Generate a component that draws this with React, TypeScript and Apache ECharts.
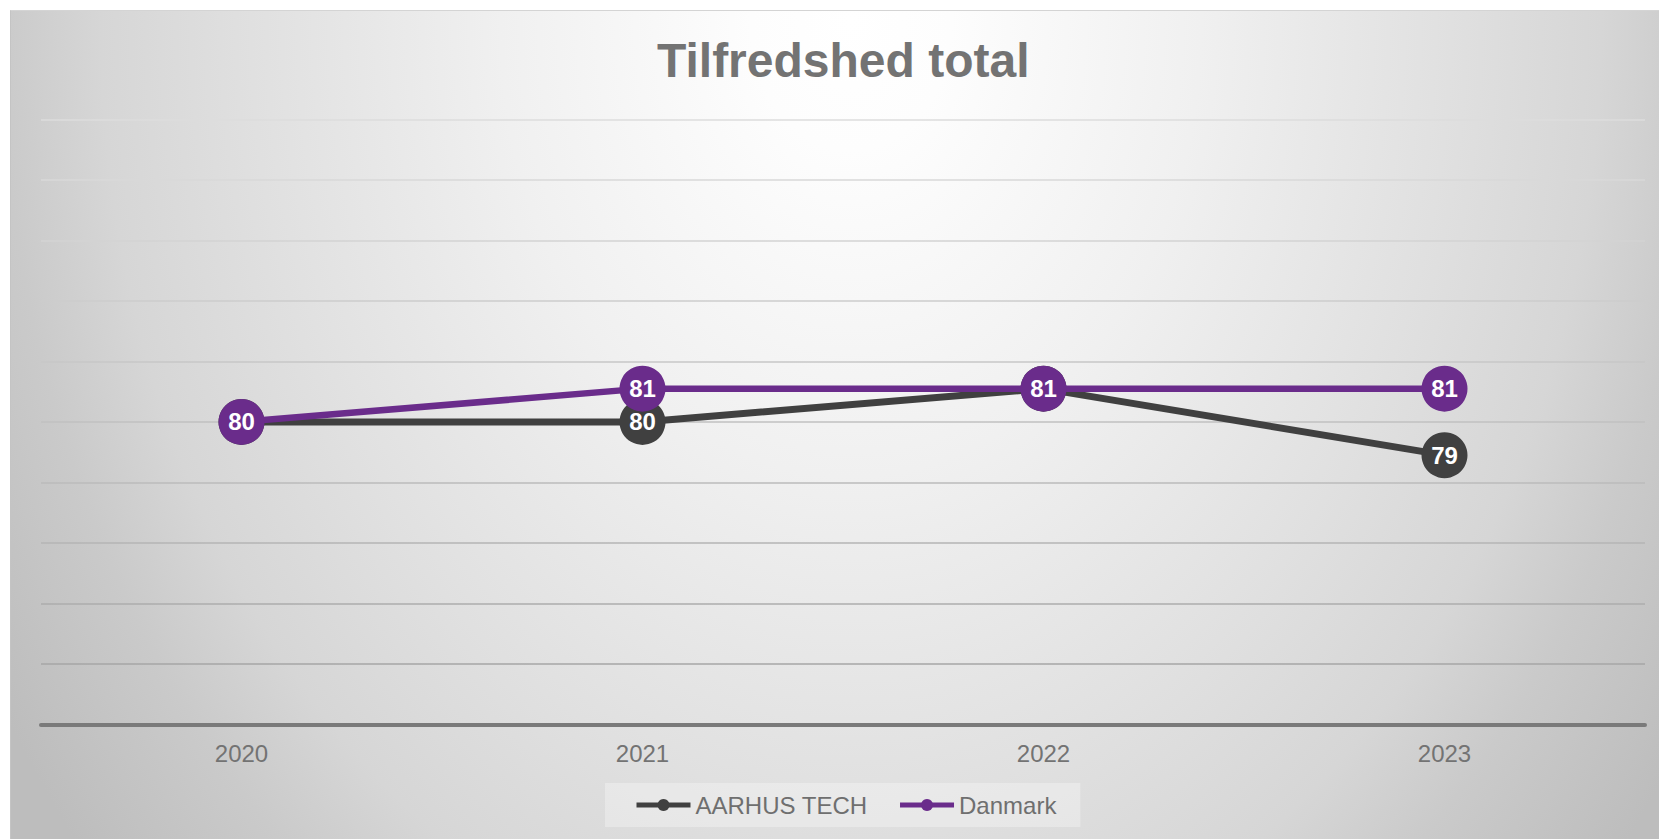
import React, { useEffect, useRef } from "react";
import * as echarts from "echarts";

const chartTitle = "Tilfredshed total";
const years = ["2020", "2021", "2022", "2023"];
const aarhusTech = [80.0, 80.0, 81.1, 78.9];
const danmark = [80.0, 81.1, 81.1, 81.1];
const seriesNames = ["AARHUS TECH", "Danmark"];
const gridColors = [
  "#a0a0a0",
  "#a6a6a6",
  "#adadad",
  "#b4b4b4",
  "#bbbbbb",
  "#c1c1c1",
  "#c7c7c7",
  "#cdcdcd",
  "#d3d3d3",
  "#d8d8d8",
  "#dddddd",
];

const FONT = "'Liberation Sans', Arial, sans-serif";

export default function App() {
  const ref = useRef<HTMLDivElement>(null);

  useEffect(() => {
    if (!ref.current) return;
    const chart = echarts.init(ref.current, undefined, { renderer: "svg" });
    const labelFmt = (p: any) => String(Math.round(p.value));
    const dataLabel = {
      show: true,
      position: "inside",
      formatter: labelFmt,
      color: "#ffffff",
      fontFamily: FONT,
      fontSize: 24,
      fontWeight: "bold",
    };
    chart.setOption({
      animation: false,
      backgroundColor: "transparent",
      textStyle: { fontFamily: FONT },
      title: {
        text: chartTitle,
        left: 646,
        top: 25,
        padding: 0,
        textStyle: {
          fontFamily: FONT,
          fontSize: 48,
          fontWeight: "bold",
          color: "#737373",
        },
      },
      grid: { left: 30, right: 14, top: 108.5, bottom: 114.7, containLabel: false },
      legend: {
        data: seriesNames,
        left: 594,
        top: 772,
        padding: [10, 24, 10, 29],
        itemGap: 30,
        itemWidth: 54,
        itemHeight: 15,
        lineStyle: { width: 5 },
        backgroundColor: "rgba(255,255,255,0.3)",
        textStyle: { fontFamily: FONT, fontSize: 24, color: "#6f6f6f" },
      },
      xAxis: {
        type: "category",
        data: years,
        boundaryGap: true,
        axisTick: { show: false },
        axisLine: { lineStyle: { color: "#7a7a7a", width: 4 } },
        axisLabel: { fontFamily: FONT, fontSize: 24, color: "#737373", margin: 17 },
        z: 3,
      },
      yAxis: {
        type: "value",
        min: 70,
        max: 90,
        interval: 2,
        axisLabel: { show: false },
        axisLine: { show: false },
        axisTick: { show: false },
        splitLine: { lineStyle: { color: gridColors, width: 1.6 } },
      },
      series: [
        {
          name: seriesNames[0],
          type: "line",
          data: aarhusTech,
          symbol: "circle",
          symbolSize: 46,
          lineStyle: { color: "#404040", width: 7 },
          itemStyle: { color: "#404040" },
          label: dataLabel,
          z: 4,
        },
        {
          name: seriesNames[1],
          type: "line",
          data: danmark,
          symbol: "circle",
          symbolSize: 46,
          lineStyle: { color: "#6a2c8b", width: 6.5 },
          itemStyle: { color: "#6a2c8b" },
          label: dataLabel,
          z: 5,
        },
      ],
    });
    return () => chart.dispose();
  }, []);

  return (
    <div
      style={{
        position: "absolute",
        left: 10,
        top: 10,
        width: 1649,
        height: 829,
        boxSizing: "border-box",
        borderTop: "1px solid #d4d4d4",
        borderLeft: "1px solid #c4c4c4",
        background:
          "radial-gradient(ellipse 1000px 1300px at 840px 10px, #ffffff 0%, #fdfdfd 10%, #f0f0f0 35%, #e0e0e0 60%, #d6d6d6 75%, #cacaca 85%, #bdbdbd 100%)",
      }}
    >
      <div ref={ref} style={{ width: "100%", height: "100%" }} />
    </div>
  );
}
